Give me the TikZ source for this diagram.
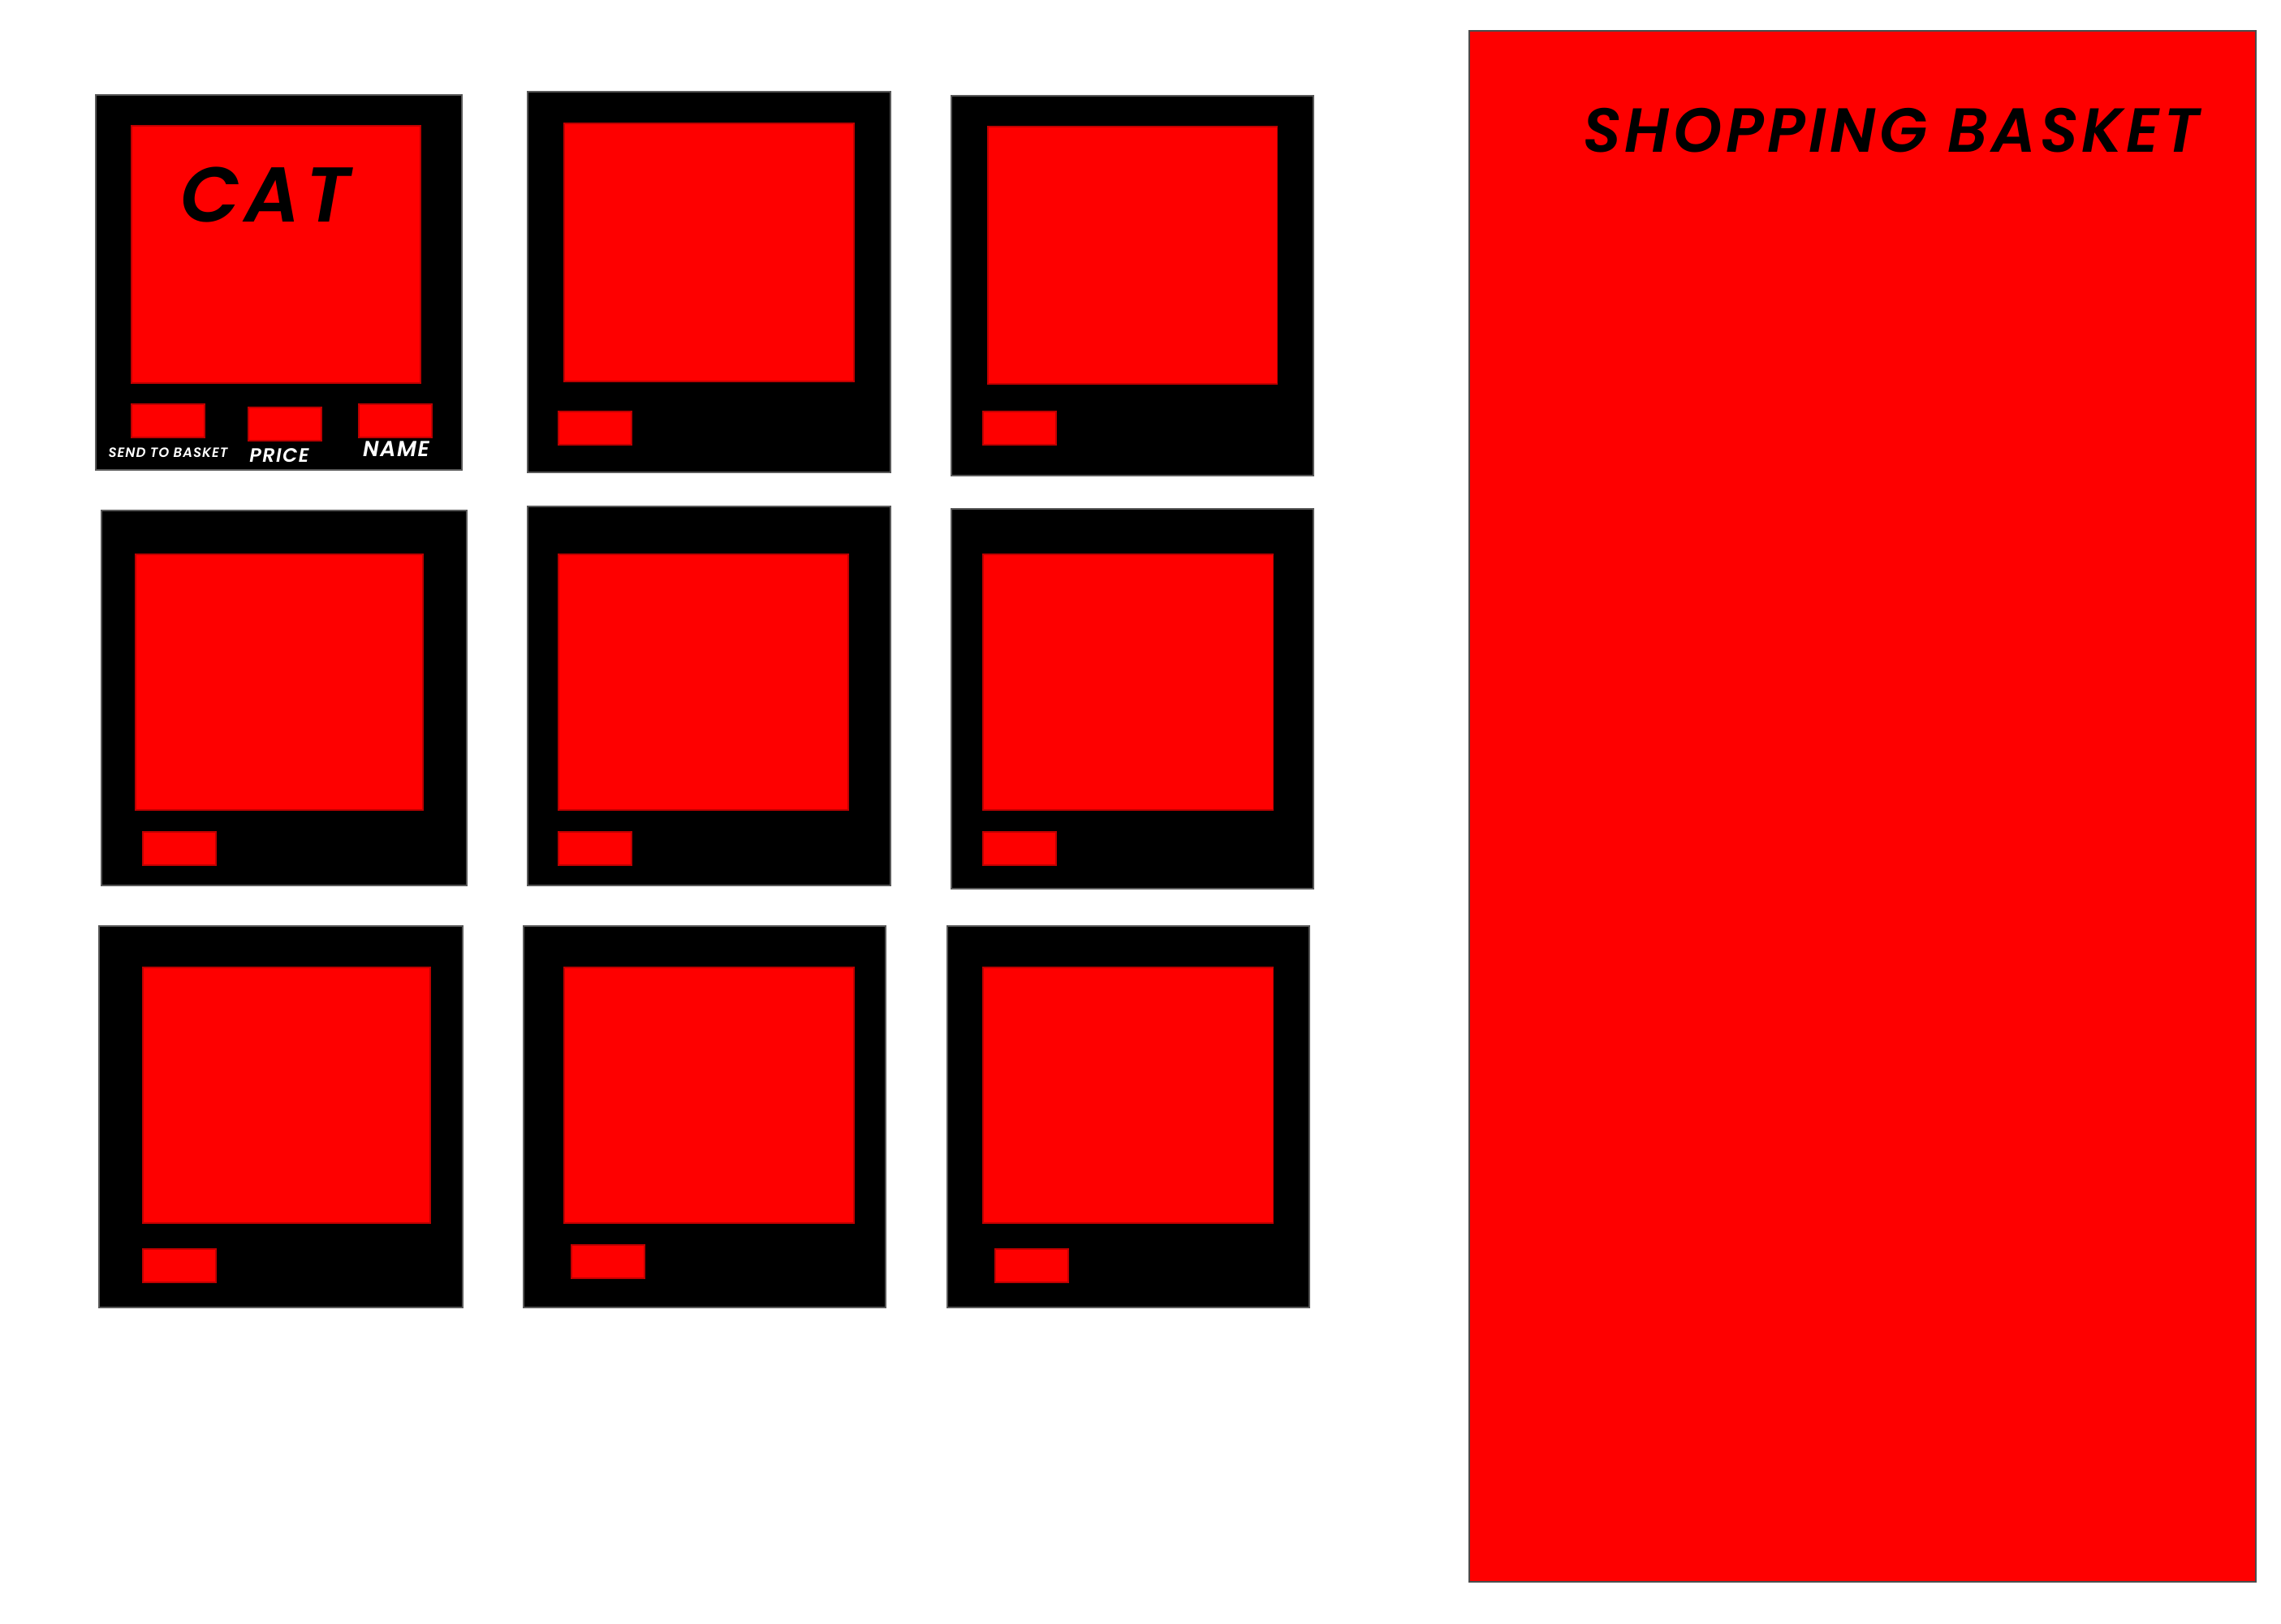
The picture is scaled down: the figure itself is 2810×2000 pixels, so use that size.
\documentclass[tikz,border=0pt]{standalone}
\usepackage{fontspec}
\newfontfamily\shopfont{Poppins SemiBold Italic}[LetterSpace=6]
\definecolor{shopred}{RGB}{254,0,0}
\begin{document}
\begin{tikzpicture}[x=0.01cm, y=-0.01cm,
    card/.style={fill=black, draw=black!65, line width=0.4pt},
    screen/.style={fill=shopred, draw=shopred!75!black, line width=0.3pt},
    button/.style={fill=shopred, draw=shopred!75!black, line width=0.3pt},
    tag/.style={font=\shopfont, text=white, inner sep=0pt}]
    \useasboundingbox (0,0) rectangle (2810,2000);

    % Shopping basket panel
    \draw[fill=shopred, draw=black!70, line width=0.4pt] (1810,38) rectangle (2779,1949);
    \node[font=\shopfont, scale=2.18, anchor=base, inner sep=0pt] (basket) at (2330,188) {SHOPPING BASKET};

    % First card, with its labels
    \draw[card] (118,117) rectangle (569,579);
    \draw[screen] (162,155) rectangle (518,472);
    \node[font=\shopfont, scale=2.72, anchor=base, inner sep=0pt] (cat) at (327,273) {CAT};
    \draw[button] (162,498) rectangle (252,539);
    \draw[button] (306,502) rectangle (396,543);
    \draw[button] (442,498) rectangle (532,539);
    \node[tag, scale=0.47, anchor=base] (send) at (207,563) {SEND TO BASKET};
    \node[tag, scale=0.68, anchor=base] (price) at (344,569) {PRICE};
    \node[tag, scale=0.76, anchor=base] (name) at (488,562) {NAME};

    % The other eight cards
    \foreach \ax/\ay/\bx/\by/\cx/\cy/\dx/\dy/\sx/\sy in {
        650/113/1097/582/695/152/1052/470/688/507,
        1172/118/1618/586/1217/156/1573/473/1211/507,
        125/629/575/1091/167/683/521/998/176/1025,
        650/624/1097/1091/688/683/1045/998/688/1025,
        1172/627/1618/1095/1211/683/1568/998/1211/1025,
        122/1141/570/1611/176/1192/530/1507/176/1539,
        645/1141/1091/1611/695/1192/1052/1507/704/1534,
        1167/1141/1613/1611/1211/1192/1568/1507/1226/1539} {
        \draw[card] (\ax,\ay) rectangle (\bx,\by);
        \draw[screen] (\cx,\cy) rectangle (\dx,\dy);
        \draw[button] (\sx,\sy) rectangle ++(90,41);
    }
\end{tikzpicture}
\end{document}
